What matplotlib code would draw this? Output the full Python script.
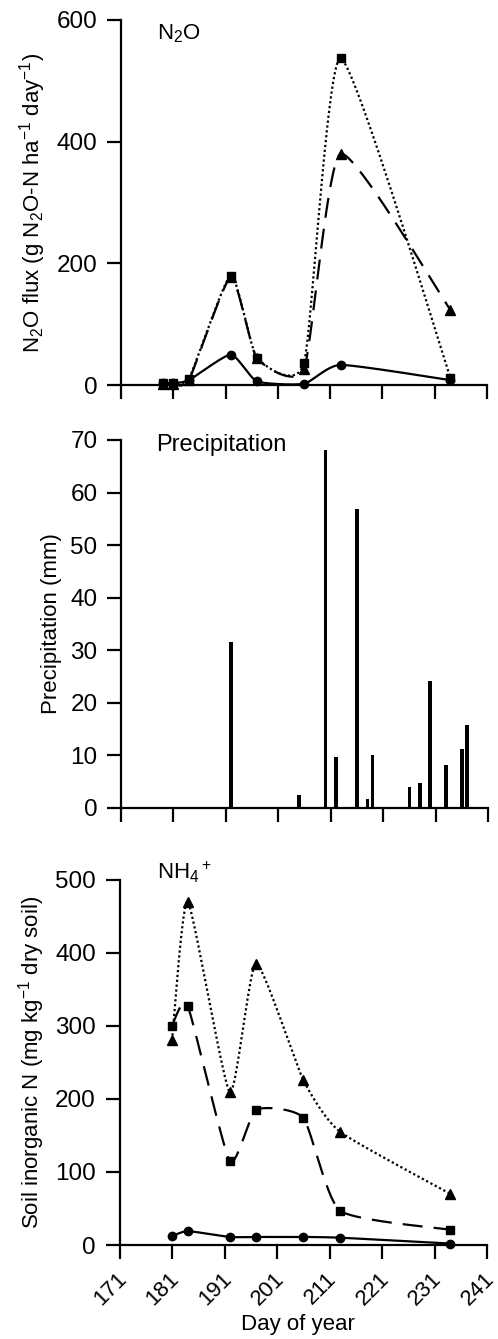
import numpy as np
import matplotlib
matplotlib.use("Agg")
import matplotlib.pyplot as plt
from matplotlib.transforms import ScaledTranslation

plt.rcParams['font.family'] = ['Liberation Sans', 'DejaVu Sans']
plt.rcParams['mathtext.fontset'] = 'custom'
plt.rcParams['mathtext.rm'] = 'Liberation Sans'
plt.rcParams['mathtext.it'] = 'Liberation Sans:italic'
plt.rcParams['mathtext.bf'] = 'Liberation Sans:bold'

# ---------------- data ----------------
n2o_days = [179, 181, 184, 192, 197, 206, 213, 234]
n2o_circle = [3, 3, 8, 50, 6, 2, 33, 8]
n2o_square = [3, 3, 10, 180, 45, 36, 537, 12]
n2o_triangle = [2, 2, 8, 178, 44, 26, 380, 123]

precip_days = [192, 205, 210, 212, 216, 218, 219, 226, 228, 230, 233, 236, 237]
precip_mm = [31.5, 2.5, 68.1, 9.7, 56.9, 1.7, 10.1, 4.0, 4.7, 24.1, 8.2, 11.2, 15.8]

nh4_days = [181, 184, 192, 197, 206, 213, 234]
nh4_circle = [12, 19, 11, 11, 11, 10, 2]
nh4_square = [300, 327, 115, 185, 174, 47, 21]
nh4_triangle = [280, 470, 209, 385, 226, 155, 70]

xticks = [171, 181, 191, 201, 211, 221, 231, 241]

# ---------------- helpers ----------------
def smooth_line(ax, x, y, tension=0.45, n=40):
    """Cardinal spline through the data points, computed in display space."""
    pts = ax.transData.transform(np.column_stack([x, y]))
    P = np.vstack([pts[0], pts, pts[-1]])
    s = (1 - tension) / 2.0
    t = np.linspace(0, 1, n)[:, None]
    h00 = 2 * t**3 - 3 * t**2 + 1
    h10 = t**3 - 2 * t**2 + t
    h01 = -2 * t**3 + 3 * t**2
    h11 = t**3 - t**2
    out = []
    for i in range(1, len(P) - 2):
        p0, p1, p2, p3 = P[i - 1], P[i], P[i + 1], P[i + 2]
        m1 = s * (p2 - p0)
        m2 = s * (p3 - p1)
        out.append(h00 * p1 + h10 * m1 + h01 * p2 + h11 * m2)
    curve = np.vstack(out)
    return ax.transData.inverted().transform(curve)

def style_axes(ax, ymax, yticks, labels_x):
    ax.set_xlim(171, 241)
    ax.set_ylim(0, ymax)
    ax.set_yticks(yticks)
    ax.set_xticks(xticks)
    for s in ['top', 'right']:
        ax.spines[s].set_visible(False)
    for s in ['left', 'bottom']:
        ax.spines[s].set_linewidth(1.6)
    ax.tick_params(direction='out', length=10, width=1.6, labelsize=17.5, pad=7)
    if labels_x:
        ax.set_xticklabels([str(v) for v in xticks], rotation=45, ha='right',
                           va='center', rotation_mode='anchor', fontsize=16)
        ax.tick_params(axis='x', pad=12)
    else:
        ax.set_xticklabels([])

W, H = 498, 1339
fig = plt.figure(figsize=(W / 100, H / 100), dpi=100)

ax1 = fig.add_axes([121 / W, 1 - 385 / H, 366 / W, 365 / H])
ax2 = fig.add_axes([121 / W, 1 - 808 / H, 367 / W, 368 / H])
ax3 = fig.add_axes([119.5 / W, 1 - 1245 / H, 367.5 / W, 365.4 / H])

style_axes(ax1, 600, [0, 200, 400, 600], False)
style_axes(ax2, 70, [0, 10, 20, 30, 40, 50, 60, 70], False)
style_axes(ax3, 500, [0, 100, 200, 300, 400, 500], True)

for lbl in ax3.get_xticklabels():
    lbl.set_transform(lbl.get_transform() + ScaledTranslation(4 / 100, 0, fig.dpi_scale_trans))

lw = 1.6
dashed = (0, (9, 5))
dotted = (0, (1, 1.2))
ms = 6.5

# ---- panel 1: N2O ----
c = smooth_line(ax1, n2o_days, n2o_square)
ax1.plot(c[:, 0], c[:, 1], color='k', lw=lw, ls=dotted, clip_on=False)
c = smooth_line(ax1, n2o_days, n2o_triangle)
ax1.plot(c[:, 0], c[:, 1], color='k', lw=lw, ls=dashed, clip_on=False)
c = smooth_line(ax1, n2o_days, n2o_circle)
ax1.plot(c[:, 0], c[:, 1], color='k', lw=lw, ls='-', clip_on=False)
ax1.plot(n2o_days, n2o_triangle, 'k^', ms=ms, ls='none', clip_on=False)
ax1.plot(n2o_days, n2o_square, 'ks', ms=ms - 0.5, ls='none', clip_on=False)
ax1.plot(n2o_days, n2o_circle, 'ko', ms=ms - 0.5, ls='none', clip_on=False)
ax1.set_ylabel('N$_2$O flux (g N$_2$O-N ha$^{-1}$ day$^{-1}$)', fontsize=16, labelpad=6)
ax1.text(0.098, 0.947, 'N$_2$O', transform=ax1.transAxes, fontsize=16,
         ha='left', va='baseline')

# ---- panel 2: precipitation ----
ax2.bar(precip_days, precip_mm, width=0.7, color='k', linewidth=0, clip_on=False)
ax2.set_ylabel('Precipitation (mm)', fontsize=16, labelpad=6)
ax2.text(0.097, 0.971, 'Precipitation', transform=ax2.transAxes, fontsize=17,
         ha='left', va='baseline')

# ---- panel 3: NH4+ ----
c = smooth_line(ax3, nh4_days, nh4_triangle)
ax3.plot(c[:, 0], c[:, 1], color='k', lw=lw, ls=dotted, clip_on=False)
c = smooth_line(ax3, nh4_days, nh4_square)
ax3.plot(c[:, 0], c[:, 1], color='k', lw=lw, ls=dashed, clip_on=False)
c = smooth_line(ax3, nh4_days, nh4_circle)
ax3.plot(c[:, 0], c[:, 1], color='k', lw=lw, ls='-', clip_on=False)
ax3.plot(nh4_days, nh4_triangle, 'k^', ms=ms, ls='none', clip_on=False)
ax3.plot(nh4_days, nh4_square, 'ks', ms=ms - 0.5, ls='none', clip_on=False)
ax3.plot(nh4_days, nh4_circle, 'ko', ms=ms - 0.5, ls='none', clip_on=False)
ax3.set_ylabel('Soil inorganic N (mg kg$^{-1}$ dry soil)', fontsize=16, labelpad=6)
ax3.set_xlabel('Day of year', fontsize=16)
ax3.xaxis.set_label_coords(0.486, -0.19)
ax3.text(0.102, 1.0, 'NH$_4{}^+$', transform=ax3.transAxes, fontsize=16,
         ha='left', va='baseline')

fig.savefig('out.png', dpi=100)
